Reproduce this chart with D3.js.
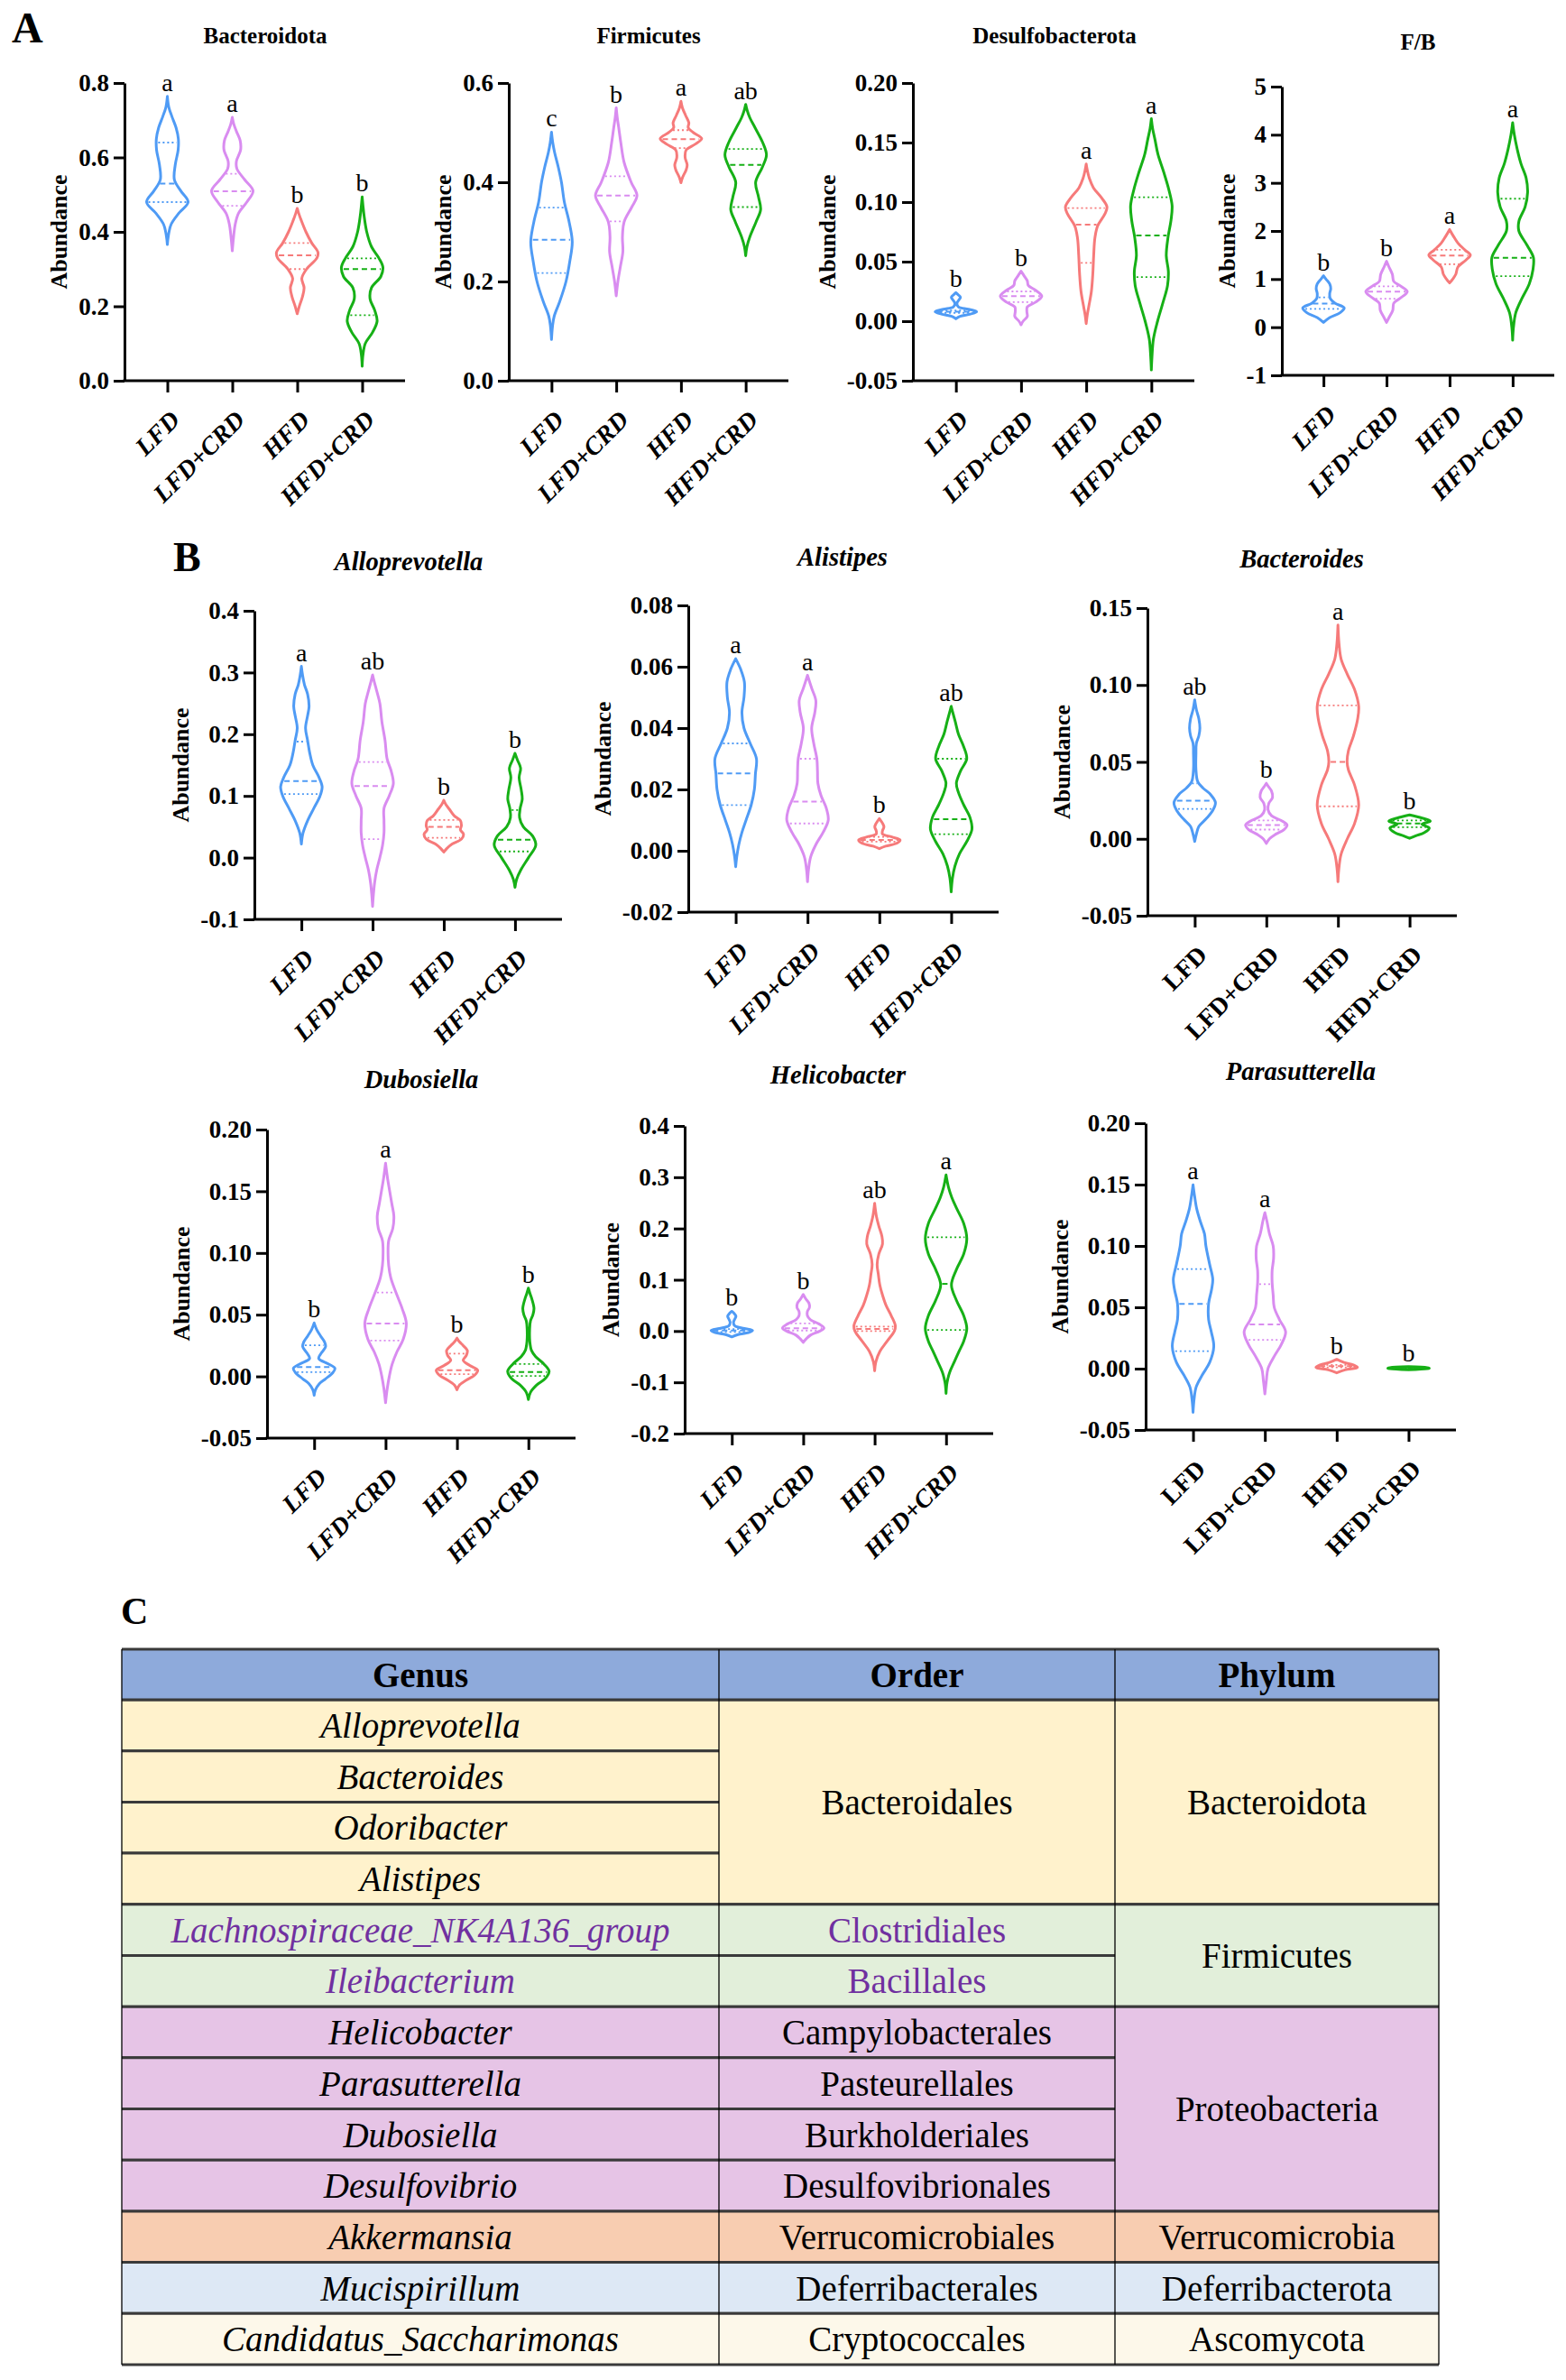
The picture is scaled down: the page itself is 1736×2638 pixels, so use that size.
<!DOCTYPE html>
<html>
<head>
<meta charset="utf-8">
<script src="https://cdn.jsdelivr.net/npm/d3@7"></script>
<style>
  body { margin: 0; background: #fff; }
  svg { display: block; }
  text { font-family: "Liberation Serif", "Times New Roman", serif; }
</style>
</head>
<body>
<div id="fig"></div>
<script>
// groups shared by every violin panel
const groups = ["LFD", "LFD+CRD", "HFD", "HFD+CRD"];
const groupColors = ["#4f9bf5", "#d98cf0", "#f67a7a", "#16b016"];

// each violin: [value, relative density 0..1] read from bottom tip to top tip
// stats: [lower quartile, median, upper quartile]

// ---- A: Bacteroidota
const bacteroidotaViolins = [
  [[0.366,0],[0.39,0.05],[0.42,0.18],[0.45,0.55],[0.48,1.0],[0.51,0.65],[0.54,0.34],[0.58,0.38],[0.62,0.52],[0.65,0.53],[0.68,0.42],[0.71,0.22],[0.735,0.07],[0.764,0]],
  [[0.349,0],[0.38,0.05],[0.42,0.14],[0.45,0.3],[0.48,0.7],[0.51,1.0],[0.54,0.6],[0.57,0.22],[0.59,0.2],[0.62,0.4],[0.645,0.38],[0.67,0.2],[0.69,0.07],[0.708,0]],
  [[0.18,0],[0.2,0.1],[0.225,0.25],[0.25,0.33],[0.275,0.22],[0.3,0.45],[0.33,0.95],[0.345,1.0],[0.37,0.7],[0.4,0.42],[0.43,0.2],[0.45,0.07],[0.463,0]],
  [[0.039,0],[0.07,0.04],[0.1,0.15],[0.13,0.5],[0.16,0.72],[0.19,0.6],[0.22,0.38],[0.25,0.45],[0.28,0.9],[0.305,1.0],[0.33,0.8],[0.36,0.45],[0.4,0.22],[0.44,0.1],[0.47,0.04],[0.494,0]]
];
const bacteroidotaStats = [[0.48,0.53,0.64],[0.47,0.509,0.556],[0.30,0.337,0.37],[0.176,0.30,0.329]];
const bacteroidotaLetters = ["a","a","b","b"];
const bacteroidotaTicks = [0, 0.2, 0.4, 0.6, 0.8];

// ---- A: Firmicutes
const firmicutesViolins = [
  [[0.083,0],[0.11,0.05],[0.13,0.13],[0.16,0.4],[0.2,0.7],[0.24,0.88],[0.28,1.0],[0.32,0.85],[0.36,0.62],[0.4,0.48],[0.43,0.33],[0.46,0.15],[0.48,0.06],[0.501,0]],
  [[0.171,0],[0.2,0.08],[0.23,0.2],[0.26,0.32],[0.29,0.3],[0.32,0.38],[0.35,0.75],[0.373,1.0],[0.4,0.72],[0.44,0.38],[0.48,0.22],[0.51,0.12],[0.53,0.05],[0.55,0]],
  [[0.399,0],[0.41,0.08],[0.425,0.25],[0.435,0.3],[0.45,0.2],[0.465,0.25],[0.477,0.7],[0.488,1.0],[0.5,0.6],[0.51,0.35],[0.52,0.38],[0.535,0.22],[0.55,0.07],[0.563,0]],
  [[0.252,0],[0.27,0.06],[0.29,0.2],[0.32,0.5],[0.345,0.72],[0.37,0.62],[0.4,0.48],[0.43,0.8],[0.455,1.0],[0.48,0.82],[0.51,0.45],[0.53,0.2],[0.545,0.07],[0.557,0]]
];
const firmicutesStats = [[0.217,0.284,0.349],[0.321,0.373,0.412],[0.469,0.487,0.505],[0.35,0.435,0.467]];
const firmicutesLetters = ["c","b","a","ab"];
const firmicutesTicks = [0, 0.2, 0.4, 0.6];

// ---- A: Desulfobacterota
const desulfoViolins = [
  [[0.002,0],[0.004,0.2],[0.006,0.7],[0.008,1.0],[0.010,0.6],[0.012,0.12],[0.015,0.05],[0.018,0.15],[0.020,0.22],[0.022,0.12],[0.024,0]],
  [[-0.003,0],[0.0,0.1],[0.004,0.3],[0.008,0.28],[0.012,0.3],[0.016,0.7],[0.021,1.0],[0.026,0.7],[0.030,0.35],[0.034,0.3],[0.038,0.15],[0.042,0]],
  [[-0.002,0],[0.005,0.05],[0.012,0.12],[0.025,0.25],[0.04,0.32],[0.055,0.36],[0.07,0.42],[0.08,0.55],[0.09,0.9],[0.096,1.0],[0.104,0.72],[0.112,0.35],[0.12,0.15],[0.127,0.05],[0.132,0]],
  [[-0.041,0],[-0.03,0.03],[-0.015,0.1],[0.0,0.3],[0.015,0.55],[0.03,0.78],[0.042,0.82],[0.055,0.72],[0.07,0.8],[0.085,0.95],[0.097,1.0],[0.11,0.85],[0.125,0.6],[0.14,0.32],[0.152,0.18],[0.162,0.06],[0.17,0]]
];
const desulfoStats = [[0.007,0.008,0.009],[0.016,0.021,0.025],[0.049,0.081,0.095],[0.037,0.072,0.104]];
const desulfoLetters = ["b","b","a","a"];
const desulfoTicks = [-0.05, 0, 0.05, 0.10, 0.15, 0.20];

// ---- A: F/B
const fbViolins = [
  [[0.1,0],[0.2,0.3],[0.3,0.8],[0.4,1.0],[0.5,0.55],[0.6,0.32],[0.7,0.3],[0.8,0.35],[0.9,0.3],[1.0,0.12],[1.07,0]],
  [[0.1,0],[0.2,0.12],[0.35,0.3],[0.5,0.35],[0.6,0.65],[0.74,1.0],[0.85,0.7],[0.95,0.35],[1.1,0.28],[1.25,0.12],[1.37,0]],
  [[0.92,0],[1.0,0.15],[1.1,0.3],[1.25,0.4],[1.4,0.8],[1.5,1.0],[1.6,0.75],[1.75,0.4],[1.88,0.2],[2.03,0]],
  [[-0.27,0],[0.0,0.04],[0.3,0.15],[0.6,0.45],[0.9,0.8],[1.2,0.98],[1.45,1.0],[1.7,0.7],[2.0,0.3],[2.2,0.3],[2.5,0.6],[2.8,0.72],[3.1,0.65],[3.4,0.4],[3.7,0.22],[4.0,0.08],[4.25,0]]
];
const fbStats = [[0.38,0.49,0.62],[0.59,0.74,0.85],[1.31,1.49,1.61],[1.06,1.44,2.67]];
const fbLetters = ["b","b","a","a"];
const fbTicks = [-1, 0, 1, 2, 3, 4, 5];

// ---- B: Alloprevotella
const alloViolins = [
  [[0.022,0],[0.04,0.08],[0.06,0.3],[0.08,0.6],[0.1,0.9],[0.115,1.0],[0.13,0.85],[0.15,0.55],[0.17,0.4],[0.19,0.3],[0.21,0.2],[0.23,0.3],[0.245,0.37],[0.265,0.3],[0.28,0.15],[0.295,0.06],[0.31,0]],
  [[-0.079,0],[-0.06,0.04],[-0.04,0.1],[-0.02,0.2],[0.0,0.35],[0.02,0.48],[0.04,0.55],[0.06,0.55],[0.08,0.55],[0.1,0.8],[0.12,1.0],[0.14,0.9],[0.16,0.7],[0.19,0.6],[0.22,0.45],[0.25,0.35],[0.27,0.2],[0.285,0.08],[0.296,0]],
  [[0.009,0],[0.015,0.15],[0.022,0.4],[0.03,0.85],[0.038,0.95],[0.045,0.8],[0.052,0.85],[0.06,0.8],[0.068,0.5],[0.078,0.28],[0.086,0.1],[0.093,0]],
  [[-0.048,0],[-0.035,0.08],[-0.02,0.28],[0.0,0.65],[0.02,1.0],[0.035,0.85],[0.05,0.4],[0.065,0.22],[0.08,0.25],[0.095,0.35],[0.11,0.3],[0.13,0.2],[0.145,0.27],[0.158,0.12],[0.169,0]]
];
const alloStats = [[0.103,0.124,0.188],[0.03,0.116,0.155],[0.032,0.05,0.061],[0.01,0.029,0.077]];
const alloLetters = ["a","ab","b","b"];
const alloTicks = [-0.1, 0, 0.1, 0.2, 0.3, 0.4];

// ---- B: Alistipes
const alistipesViolins = [
  [[-0.0052,0],[-0.002,0.05],[0.002,0.15],[0.006,0.3],[0.01,0.5],[0.015,0.75],[0.02,0.9],[0.025,0.95],[0.03,1.0],[0.035,0.7],[0.04,0.4],[0.045,0.3],[0.05,0.4],[0.055,0.42],[0.059,0.25],[0.0626,0]],
  [[-0.0101,0],[-0.006,0.05],[-0.002,0.15],[0.002,0.4],[0.006,0.75],[0.01,1.0],[0.014,0.9],[0.018,0.65],[0.022,0.5],[0.026,0.48],[0.03,0.45],[0.035,0.3],[0.04,0.2],[0.045,0.35],[0.049,0.4],[0.053,0.2],[0.0572,0]],
  [[0.0007,0],[0.0015,0.3],[0.0025,0.85],[0.0035,1.0],[0.0045,0.6],[0.0055,0.15],[0.0065,0.15],[0.0078,0.22],[0.009,0.15],[0.0105,0]],
  [[-0.0134,0],[-0.009,0.06],[-0.005,0.18],[-0.001,0.4],[0.003,0.75],[0.007,1.0],[0.011,0.9],[0.015,0.6],[0.019,0.35],[0.022,0.25],[0.026,0.45],[0.03,0.75],[0.034,0.6],[0.038,0.35],[0.042,0.2],[0.045,0.08],[0.0471,0]]
];
const alistipesStats = [[0.0149,0.0252,0.035],[0.0089,0.016,0.03],[0.003,0.0035,0.0045],[0.0054,0.0103,0.03]];
const alistipesLetters = ["a","a","b","ab"];
const alistipesTicks = [-0.02, 0, 0.02, 0.04, 0.06, 0.08];

// ---- B: Bacteroides
const bacteroidesViolins = [
  [[-0.0017,0],[0.003,0.08],[0.008,0.2],[0.013,0.55],[0.018,0.85],[0.0235,1.0],[0.029,0.75],[0.033,0.4],[0.037,0.15],[0.045,0.06],[0.055,0.06],[0.062,0.08],[0.067,0.2],[0.072,0.25],[0.078,0.2],[0.084,0.08],[0.0903,0]],
  [[-0.003,0],[0.0,0.15],[0.003,0.45],[0.006,0.85],[0.009,1.0],[0.012,0.7],[0.015,0.25],[0.019,0.08],[0.023,0.12],[0.027,0.3],[0.031,0.25],[0.034,0.1],[0.0361,0]],
  [[-0.0279,0],[-0.02,0.04],[-0.01,0.15],[0.0,0.45],[0.01,0.8],[0.022,1.0],[0.035,0.8],[0.045,0.5],[0.05,0.44],[0.057,0.5],[0.067,0.75],[0.078,0.95],[0.086,1.0],[0.097,0.8],[0.107,0.45],[0.117,0.15],[0.127,0.05],[0.139,0]],
  [[0.0003,0],[0.002,0.3],[0.004,0.7],[0.007,0.95],[0.0095,0.6],[0.0115,1.0],[0.0135,0.6],[0.0155,0]]
];
const bacteroidesStats = [[0.0194,0.0248,0.036],[0.006,0.009,0.012],[0.0211,0.05,0.0867],[0.0075,0.010,0.012]];
const bacteroidesLetters = ["ab","b","a","b"];
const bacteroidesTicks = [-0.05, 0, 0.05, 0.10, 0.15];

// ---- B: Dubosiella
const dubosiellaViolins = [
  [[-0.0153,0],[-0.011,0.06],[-0.006,0.25],[-0.002,0.55],[0.003,0.9],[0.0065,1.0],[0.01,0.7],[0.0145,0.22],[0.019,0.35],[0.024,0.55],[0.028,0.5],[0.033,0.3],[0.038,0.12],[0.0433,0]],
  [[-0.0213,0],[-0.01,0.08],[0.0,0.18],[0.01,0.32],[0.02,0.55],[0.03,0.85],[0.043,1.0],[0.055,0.8],[0.068,0.5],[0.08,0.25],[0.09,0.15],[0.1,0.12],[0.11,0.15],[0.12,0.35],[0.13,0.4],[0.14,0.3],[0.15,0.2],[0.16,0.1],[0.1728,0]],
  [[-0.0108,0],[-0.007,0.12],[-0.003,0.45],[0.001,0.85],[0.005,1.0],[0.009,0.6],[0.013,0.3],[0.017,0.45],[0.021,0.5],[0.025,0.3],[0.028,0.12],[0.031,0]],
  [[-0.0187,0],[-0.013,0.1],[-0.007,0.4],[-0.002,0.8],[0.004,1.0],[0.01,0.75],[0.016,0.35],[0.021,0.15],[0.028,0.07],[0.038,0.06],[0.045,0.1],[0.05,0.22],[0.055,0.27],[0.062,0.18],[0.067,0.08],[0.0715,0]]
];
const dubosiellaStats = [[0.0035,0.0075,0.0252],[0.029,0.0428,0.068],[0.0018,0.005,0.0185],[0.0004,0.0035,0.01]];
const dubosiellaLetters = ["b","a","b","b"];
const dubosiellaTicks = [-0.05, 0, 0.05, 0.10, 0.15, 0.20];

// ---- B: Helicobacter
const helicobacterViolins = [
  [[-0.0115,0],[-0.007,0.3],[-0.003,0.8],[0.001,1.0],[0.005,0.6],[0.01,0.15],[0.017,0.08],[0.024,0.15],[0.029,0.2],[0.034,0.12],[0.0385,0]],
  [[-0.0222,0],[-0.015,0.15],[-0.008,0.35],[0.0,0.8],[0.006,1.0],[0.014,0.75],[0.022,0.35],[0.03,0.2],[0.038,0.2],[0.046,0.3],[0.054,0.28],[0.063,0.12],[0.0714,0]],
  [[-0.0775,0],[-0.06,0.06],[-0.04,0.25],[-0.02,0.6],[0.0,0.95],[0.01,1.0],[0.03,0.8],[0.05,0.55],[0.07,0.38],[0.09,0.25],[0.11,0.18],[0.13,0.12],[0.15,0.2],[0.17,0.38],[0.185,0.35],[0.205,0.2],[0.225,0.08],[0.2492,0]],
  [[-0.1215,0],[-0.1,0.05],[-0.08,0.18],[-0.06,0.4],[-0.04,0.62],[-0.02,0.85],[0.005,1.0],[0.03,0.85],[0.06,0.5],[0.09,0.26],[0.12,0.5],[0.15,0.85],[0.18,1.0],[0.21,0.85],[0.24,0.5],[0.26,0.28],[0.28,0.12],[0.3045,0]]
];
const helicobacterStats = [[-0.002,0.001,0.004],[0.001,0.0055,0.015],[0.0,0.004,0.0086],[0.0023,0.092,0.183]];
const helicobacterLetters = ["b","b","ab","a"];
const helicobacterTicks = [-0.2, -0.1, 0, 0.1, 0.2, 0.3, 0.4];

// ---- B: Parasutterella
const parasutterellaViolins = [
  [[-0.0356,0],[-0.025,0.05],[-0.015,0.15],[-0.005,0.45],[0.005,0.8],[0.018,1.0],[0.03,0.88],[0.04,0.75],[0.053,0.75],[0.065,0.9],[0.073,0.95],[0.085,0.8],[0.1,0.62],[0.11,0.55],[0.12,0.35],[0.13,0.18],[0.14,0.08],[0.1499,0]],
  [[-0.0206,0],[-0.01,0.07],[0.0,0.15],[0.01,0.45],[0.02,0.8],[0.03,1.0],[0.04,0.7],[0.05,0.45],[0.06,0.4],[0.07,0.35],[0.08,0.35],[0.09,0.42],[0.1,0.4],[0.11,0.22],[0.12,0.1],[0.1271,0]],
  [[-0.0034,0],[-0.001,0.4],[0.001,1.0],[0.003,0.8],[0.005,0.35],[0.0076,0]],
  [[-0.001,0],[0.0,0.9],[0.0003,1.0],[0.0008,0.9],[0.0016,0]]
];
const parasutterellaStats = [[0.0143,0.0528,0.0812],[0.0234,0.036,0.0688],[0.001,0.002,0.003],[0.0,0.0003,0.0006]];
const parasutterellaLetters = ["a","a","b","b"];
const parasutterellaTicks = [-0.05, 0, 0.05, 0.10, 0.15, 0.20];

// ---- C: taxonomy table
const tableHeaders = ["Genus", "Order", "Phylum"];
const genera = ["Alloprevotella","Bacteroides","Odoribacter","Alistipes","Lachnospiraceae_NK4A136_group","Ileibacterium",
  "Helicobacter","Parasutterella","Dubosiella","Desulfovibrio","Akkermansia","Mucispirillum","Candidatus_Saccharimonas"];
const orders = [["Bacteroidales",4],["Clostridiales",1],["Bacillales",1],["Campylobacterales",1],["Pasteurellales",1],
  ["Burkholderiales",1],["Desulfovibrionales",1],["Verrucomicrobiales",1],["Deferribacterales",1],["Cryptococcales",1]];
const phyla = [["Bacteroidota",4],["Firmicutes",2],["Proteobacteria",4],["Verrucomicrobia",1],["Deferribacterota",1],["Ascomycota",1]];
const phylumColors = ["#fff2cc","#e2efda","#e6c4e6","#f8cdb1","#dde8f5","#fdf8ea"];
const purpleRows = [4, 5];

// ---------------- layout
const W = 1736, H = 2638;
const svg = d3.select("#fig").append("svg").attr("width", W).attr("height", H);

const panels = [
  {title:"Bacteroidota", tItalic:false, xItalic:true, v:bacteroidotaViolins, s:bacteroidotaStats, l:bacteroidotaLetters, ticks:bacteroidotaTicks, fmt:".1f", box:[138,449,92,422], tpos:[294,39]},
  {title:"Firmicutes", tItalic:false, xItalic:true, v:firmicutesViolins, s:firmicutesStats, l:firmicutesLetters, ticks:firmicutesTicks, fmt:".1f", box:[564,874,92,422], tpos:[719,39]},
  {title:"Desulfobacterota", tItalic:false, xItalic:true, v:desulfoViolins, s:desulfoStats, l:desulfoLetters, ticks:desulfoTicks, fmt:".2f", box:[1012,1324,92,422], tpos:[1169,39]},
  {title:"F/B", tItalic:false, xItalic:true, v:fbViolins, s:fbStats, l:fbLetters, ticks:fbTicks, fmt:"d", box:[1421,1723,96,416], tpos:[1572,46]},
  {title:"Alloprevotella", tItalic:true, xItalic:true, v:alloViolins, s:alloStats, l:alloLetters, ticks:alloTicks, fmt:".1f", box:[282,623,677,1019], tpos:[453,622]},
  {title:"Alistipes", tItalic:true, xItalic:true, v:alistipesViolins, s:alistipesStats, l:alistipesLetters, ticks:alistipesTicks, fmt:".2f", box:[763,1107,671,1011], tpos:[934,617]},
  {title:"Bacteroides", tItalic:true, xItalic:false, v:bacteroidesViolins, s:bacteroidesStats, l:bacteroidesLetters, ticks:bacteroidesTicks, fmt:".2f", box:[1272,1615,674,1015], tpos:[1443,619]},
  {title:"Dubosiella", tItalic:true, xItalic:true, v:dubosiellaViolins, s:dubosiellaStats, l:dubosiellaLetters, ticks:dubosiellaTicks, fmt:".2f", box:[296,638,1252,1594], tpos:[467,1196]},
  {title:"Helicobacter", tItalic:true, xItalic:true, v:helicobacterViolins, s:helicobacterStats, l:helicobacterLetters, ticks:helicobacterTicks, fmt:".1f", box:[759,1101,1248,1589], tpos:[929,1191]},
  {title:"Parasutterella", tItalic:true, xItalic:false, v:parasutterellaViolins, s:parasutterellaStats, l:parasutterellaLetters, ticks:parasutterellaTicks, fmt:".2f", box:[1270,1614,1245,1585], tpos:[1442,1187]}
];

const halfW = d3.scaleLinear().domain([0, 1]).range([0, 23]);

function densityAt(profile, v) {
  for (let i = 0; i < profile.length - 1; i++) {
    const a = profile[i], b = profile[i + 1];
    if (v >= a[0] && v <= b[0]) {
      const t = b[0] === a[0] ? 0 : (v - a[0]) / (b[0] - a[0]);
      return a[1] + t * (b[1] - a[1]);
    }
  }
  return 0;
}

panels.forEach(p => {
  const [x0, x1, y0, y1] = p.box;
  const g = svg.append("g");

  const x = d3.scalePoint().domain(groups).range([x0, x1]).padding(0.66);
  const y = d3.scaleLinear().domain(d3.extent(p.ticks)).range([y1, y0]);
  const f = d3.format(p.fmt);

  // title
  g.append("text")
    .attr("x", p.tpos[0]).attr("y", p.tpos[1]).attr("dy", "0.35em")
    .attr("text-anchor", "middle")
    .style("font-size", p.tItalic ? "28.5px" : "25px").style("font-weight", "bold")
    .style("font-style", p.tItalic ? "italic" : "normal")
    .text(p.title);

  // y axis
  const yAx = g.append("g").attr("transform", `translate(${x0},0)`)
    .call(d3.axisLeft(y).tickValues(p.ticks).tickFormat(d => f(d).replace("\u2212", "-"))
      .tickSize(12).tickSizeOuter(0).tickPadding(5));
  yAx.select(".domain").attr("stroke-width", 3);
  yAx.selectAll(".tick line").attr("stroke-width", 3);
  yAx.selectAll(".tick text").style("font-size", "27px").style("font-weight", "bold")
    .style("font-family", '"Liberation Serif", serif').attr("fill", "#000");

  let maxW = 0;
  yAx.selectAll(".tick text").each(function () { maxW = Math.max(maxW, this.getComputedTextLength()); });

  g.append("text")
    .attr("transform", `translate(${x0 - 17 - maxW - 22},${(y0 + y1) / 2}) rotate(-90)`)
    .attr("text-anchor", "middle").attr("dy", "0.35em")
    .style("font-size", "26px").style("font-weight", "bold")
    .text("Abundance");

  // x axis
  const xAx = g.append("g").attr("transform", `translate(0,${y1})`)
    .call(d3.axisBottom(x).tickSize(13).tickSizeOuter(0));
  xAx.select(".domain").attr("stroke-width", 3).attr("d", `M${x0 - 1.5},0H${x1}`);
  xAx.selectAll(".tick line").attr("stroke-width", 3);
  xAx.selectAll(".tick text")
    .attr("x", 0).attr("y", 0).attr("dy", "0.35em")
    .attr("transform", "translate(8,38) rotate(-45)")
    .attr("text-anchor", "end")
    .style("font-size", "28px").style("font-weight", "bold")
    .style("font-style", p.xItalic ? "italic" : "normal")
    .style("font-family", '"Liberation Serif", serif').attr("fill", "#000");

  // violins
  p.v.forEach((prof, i) => {
    const cx = x(groups[i]);
    const col = groupColors[i];
    const area = d3.area()
      .curve(d3.curveCatmullRom.alpha(0.5))
      .y(d => y(d[0]))
      .x0(d => cx - halfW(d[1]))
      .x1(d => cx + halfW(d[1]));
    g.append("path").datum(prof).attr("d", area)
      .attr("fill", "none").attr("stroke", col).attr("stroke-width", 3)
      .attr("stroke-linejoin", "round");

    // quartiles (dotted) and median (dashed)
    p.s[i].forEach((val, k) => {
      const hw = Math.max(halfW(densityAt(prof, val)) - 2, 3);
      g.append("line")
        .attr("x1", cx - hw).attr("x2", cx + hw)
        .attr("y1", y(val)).attr("y2", y(val))
        .attr("stroke", col)
        .attr("stroke-width", k === 1 ? 2 : 1.8)
        .attr("stroke-dasharray", k === 1 ? "6,4" : "2,3");
    });

    // significance letter above the top tip
    const top = d3.max(prof, d => d[0]);
    g.append("text")
      .attr("x", cx).attr("y", y(top) - 6)
      .attr("text-anchor", "middle")
      .style("font-size", "28px")
      .text(p.l[i]);
  });
});

// panel letters
svg.append("text").attr("x", 13).attr("y", 47).style("font-size", "48px").style("font-weight", "bold").text("A");
svg.append("text").attr("x", 192).attr("y", 633).style("font-size", "46px").style("font-weight", "bold").text("B");
svg.append("text").attr("x", 134).attr("y", 1800).style("font-size", "42px").style("font-weight", "bold").text("C");

// ---------------- table C
const cols = [135, 797, 1236, 1595];
const headTop = 1828, headBottom = 1884;
const rowY = d3.scaleLinear().domain([0, genera.length]).range([headBottom, 2621]);
const tg = svg.append("g");

// phylum spans give the row colours
const rowPhylum = [];
phyla.forEach((ph, i) => { for (let k = 0; k < ph[1]; k++) rowPhylum.push(i); });

function cell(c, r0, span, txt, opts) {
  const xa = cols[c], xb = cols[c + 1];
  const ya = rowY(r0), yb = rowY(r0 + span);
  tg.append("rect").attr("x", xa).attr("y", ya).attr("width", xb - xa).attr("height", yb - ya)
    .attr("fill", phylumColors[rowPhylum[r0]]);
  tg.append("text").attr("x", (xa + xb) / 2).attr("y", (ya + yb) / 2).attr("dy", "0.35em")
    .attr("text-anchor", "middle")
    .style("font-size", "39px")
    .style("font-style", opts.italic ? "italic" : "normal")
    .attr("fill", opts.purple ? "#7030a0" : "#000")
    .text(txt);
  // borders
  tg.append("line").attr("x1", xa).attr("x2", xb).attr("y1", ya).attr("y2", ya).attr("stroke", "#3a3a3a").attr("stroke-width", 3);
  tg.append("line").attr("x1", xa).attr("x2", xb).attr("y1", yb).attr("y2", yb).attr("stroke", "#3a3a3a").attr("stroke-width", 3);
}

genera.forEach((gname, r) => cell(0, r, 1, gname, {italic: true, purple: purpleRows.includes(r)}));
let r = 0;
orders.forEach(o => { cell(1, r, o[1], o[0], {italic: false, purple: purpleRows.includes(r)}); r += o[1]; });
r = 0;
phyla.forEach(ph => { cell(2, r, ph[1], ph[0], {italic: false, purple: false}); r += ph[1]; });

// header
tableHeaders.forEach((h, c) => {
  tg.append("rect").attr("x", cols[c]).attr("y", headTop).attr("width", cols[c + 1] - cols[c]).attr("height", headBottom - headTop)
    .attr("fill", "#8eaadb");
  tg.append("text").attr("x", (cols[c] + cols[c + 1]) / 2).attr("y", (headTop + headBottom) / 2).attr("dy", "0.35em")
    .attr("text-anchor", "middle").style("font-size", "39px").style("font-weight", "bold").text(h);
});
tg.append("line").attr("x1", cols[0]).attr("x2", cols[3]).attr("y1", headTop).attr("y2", headTop).attr("stroke", "#3a3a3a").attr("stroke-width", 3);
tg.append("line").attr("x1", cols[0]).attr("x2", cols[3]).attr("y1", headBottom).attr("y2", headBottom).attr("stroke", "#3a3a3a").attr("stroke-width", 3);

// vertical rules
cols.forEach(cx => {
  tg.append("line").attr("x1", cx).attr("x2", cx).attr("y1", headTop).attr("y2", rowY(genera.length))
    .attr("stroke", "#000").attr("stroke-width", 1.3);
});
</script>
</body>
</html>
